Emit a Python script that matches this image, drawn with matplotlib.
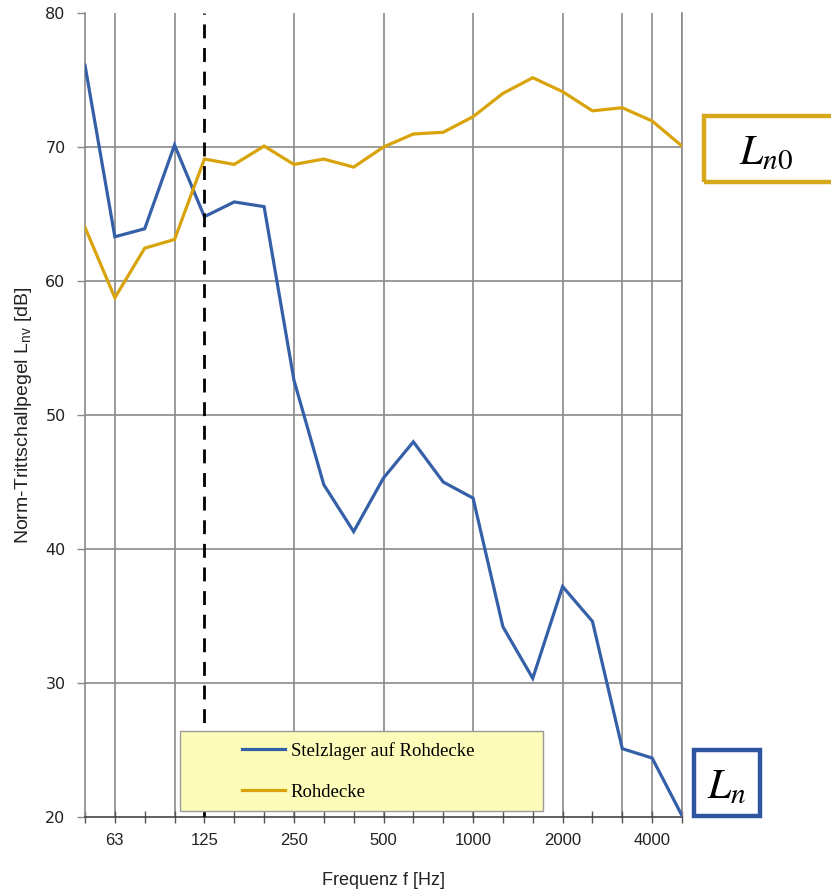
import matplotlib
matplotlib.use("Agg")
import matplotlib.pyplot as plt
from matplotlib.patches import Rectangle
from matplotlib.lines import Line2D
from matplotlib import font_manager

# Third-octave band centre frequencies [Hz]
bands = [50, 63, 80, 100, 125, 160, 200, 250, 315, 400, 500,
         630, 800, 1000, 1250, 1600, 2000, 2500, 3150, 4000, 5000]

# Normalised impact sound level [dB]
stelzlager = [76.1, 63.3, 63.9, 70.15, 64.8, 65.9, 65.55, 52.6, 44.8, 41.3, 45.3,
              48.0, 45.0, 43.8, 34.2, 30.35, 37.2, 34.6, 25.1, 24.4, 20.1]
rohdecke = [64.0, 58.75, 62.45, 63.1, 69.1, 68.7, 70.07, 68.7, 69.1, 68.5, 70.0,
            70.97, 71.1, 72.26, 74.0, 75.17, 74.13, 72.7, 72.93, 71.94, 70.07]

labelled_bands = [63, 125, 250, 500, 1000, 2000, 4000]
grid_bands = [63, 100, 250, 500, 1000, 2000, 3150, 4000, 5000]
marker_band = 125

series_labels = ["Stelzlager auf Rohdecke", "Rohdecke"]
blue = "#3560a8"
gold = "#d9a30b"

installed = {f.name for f in font_manager.fontManager.ttflist}
narrow = "Liberation Sans Narrow" if "Liberation Sans Narrow" in installed else "Liberation Sans"

W, H = 831, 892
fig = plt.figure(figsize=(W / 100, H / 100), dpi=100)
ax = fig.add_axes([85 / W, 1 - 817 / H, (682 - 85) / W, (817 - 13) / H])

x = list(range(len(bands)))
ax.set_xlim(0, len(bands) - 1)
ax.set_ylim(20, 80)

# grid
for b in grid_bands:
    ax.axvline(bands.index(b), color="#8a8a8a", lw=1.2, zorder=1)
for yv in range(30, 80, 10):
    ax.axhline(yv, color="#8a8a8a", lw=1.2, zorder=1)

ax.axvline(bands.index(marker_band), color="black", lw=2.0,
           ls=(0, (5, 3.5)), zorder=4)

ax.plot(x, stelzlager, color=blue, lw=2.3, zorder=3, solid_joinstyle="miter")
ax.plot(x, rohdecke, color=gold, lw=2.3, zorder=3, solid_joinstyle="miter")

# axes styling
ax.spines["top"].set_visible(False)
for s in ["left", "bottom", "right"]:
    ax.spines[s].set_color("#8a8a8a")
    ax.spines[s].set_linewidth(1.2)
ax.spines["bottom"].set_color("#444444")

ax.set_xticks(x)
ax.set_xticklabels([str(b) if b in labelled_bands else "" for b in bands],
                   fontsize=12, family=narrow, color="#222222")
ax.tick_params(axis="x", direction="inout", length=9, width=1.0,
               color="#555555", pad=7)
ax.set_yticks(range(20, 81, 10))
ax.set_yticklabels([str(v) for v in range(20, 81, 10)],
                   fontsize=11.5, family="DejaVu Sans", color="#222222")
ax.tick_params(axis="y", direction="out", length=6, width=1.0,
               color="#8a8a8a", pad=8)

ax.set_xlabel("Frequenz f [Hz]", fontsize=13, family="Liberation Sans",
              labelpad=17, color="#222222")
ax.set_ylabel("Norm-Trittschallpegel L$_{\\mathregular{nv}}$ [dB]", fontsize=14,
              family=narrow, labelpad=8, color="#222222")

# legend box
ax_w, ax_h = 682 - 85, 817 - 13
box = Rectangle(((180 - 85) / ax_w, (817 - 811) / ax_h),
                (543 - 180) / ax_w, (811 - 731) / ax_h,
                transform=ax.transAxes, facecolor="#fdfcb8",
                edgecolor="#9a9a9a", lw=1.0, zorder=5)
ax.add_patch(box)
handles = [Line2D([], [], color=blue, lw=2.3), Line2D([], [], color=gold, lw=2.3)]
leg = ax.legend(handles, series_labels, loc="upper left",
                bbox_to_anchor=((229 - 85) / ax_w, (817 - 729) / ax_h),
                frameon=False, handlelength=2.3, handletextpad=0.3,
                labelspacing=1.25, borderpad=0.2,
                prop={"family": "Liberation Serif", "size": 13.5})
leg.set_zorder(6)

# side labels for the two curves
plt.rcParams["mathtext.fontset"] = "stix"
fig.patches.append(Rectangle((704 / W, 1 - 182 / H), 140 / W, 66 / H,
                             transform=fig.transFigure, fill=False,
                             edgecolor="#d6a91c", lw=3.2))
fig.text(766 / W, 1 - 152 / H, "$L_{n0}$", fontsize=30, ha="center",
         va="center", color="black")
fig.patches.append(Rectangle((694 / W, 1 - 816 / H), 66 / W, 66 / H,
                             transform=fig.transFigure, fill=False,
                             edgecolor="#2e56a0", lw=3.2))
fig.text(727 / W, 1 - 786 / H, "$L_n$", fontsize=30, ha="center",
         va="center", color="black")

fig.savefig("out.png", dpi=100)
